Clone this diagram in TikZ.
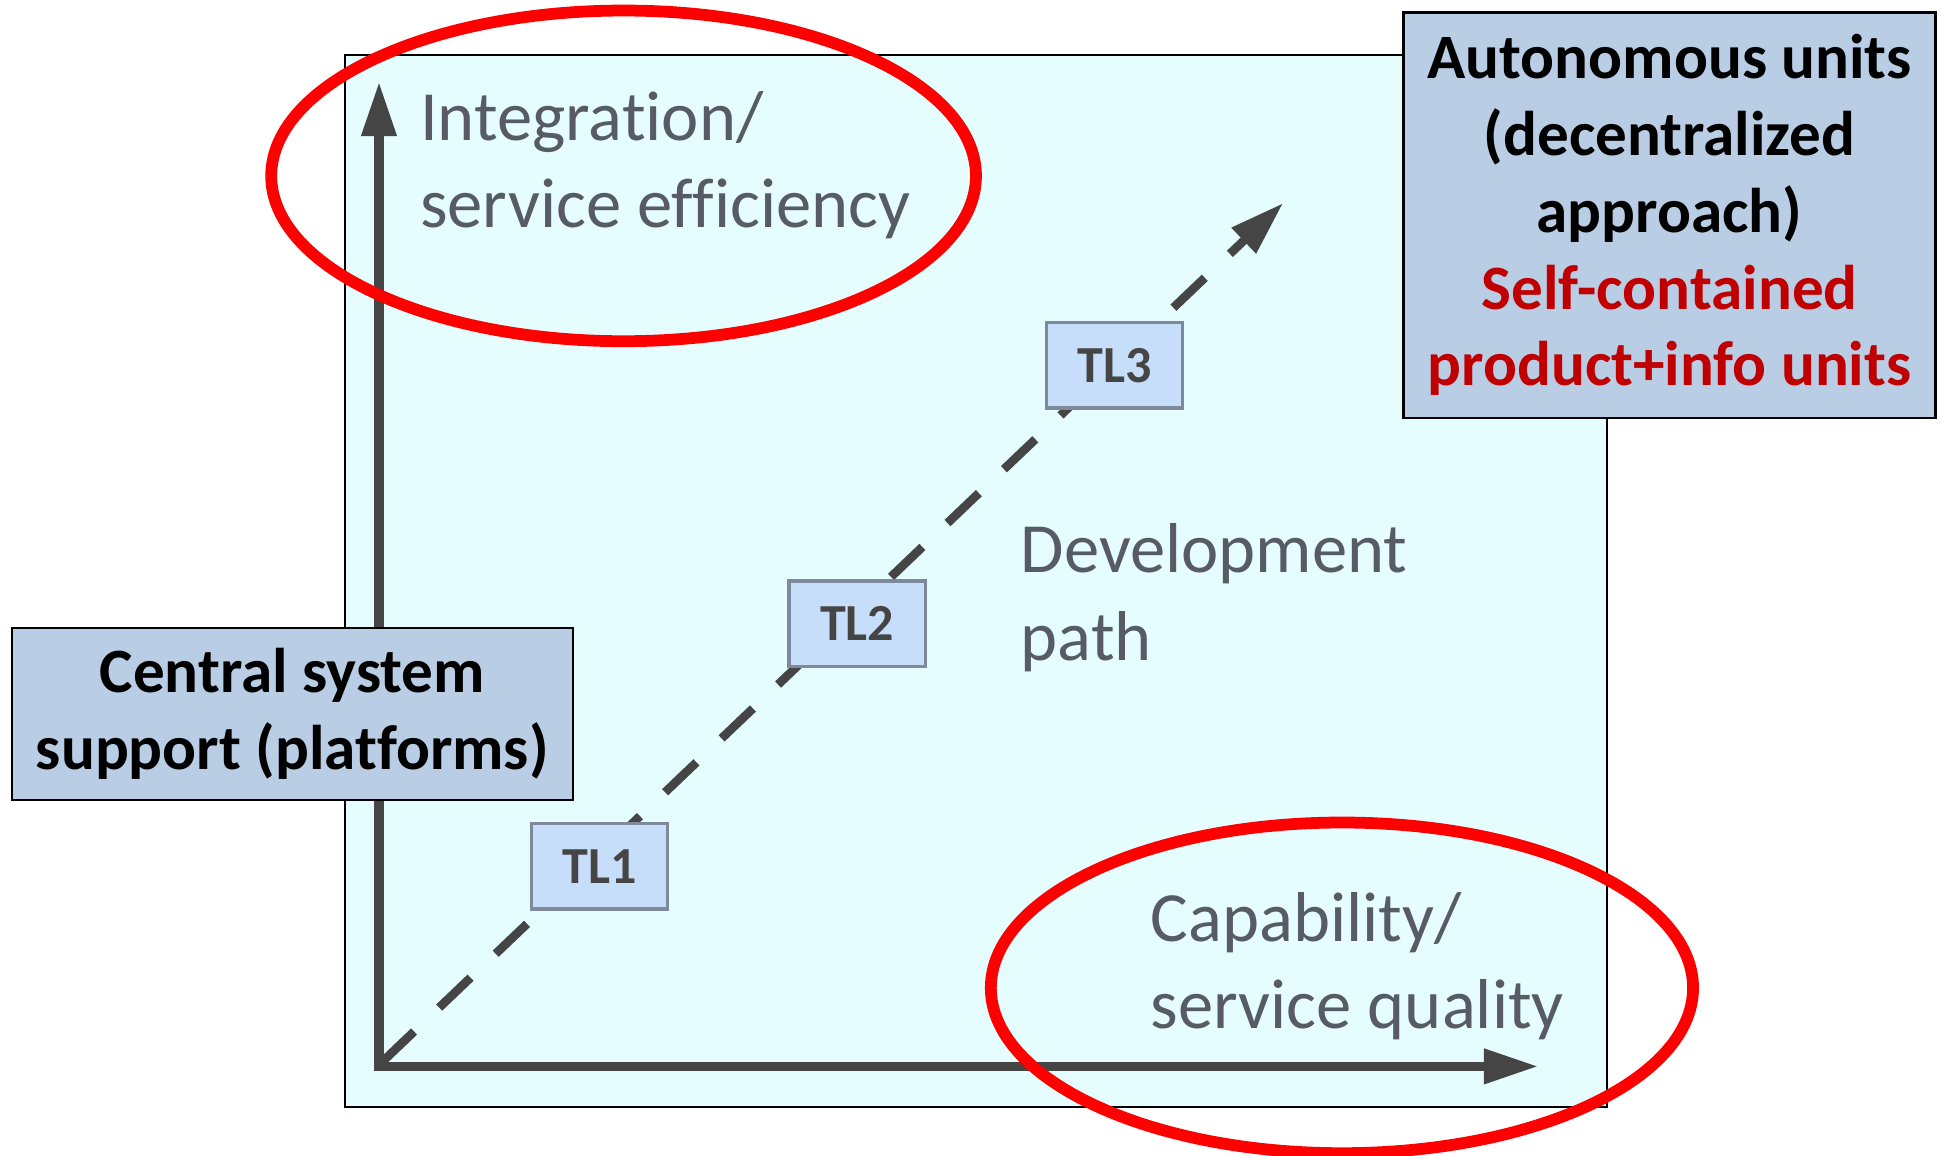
\documentclass[tikz,border=0pt]{standalone}
\usepackage{fontspec}
\setmainfont{Carlito}[Ligatures=NoCommon]
\usetikzlibrary{arrows.meta,calc}

\definecolor{framefill}{HTML}{E5FDFE}
\definecolor{axisgray}{HTML}{454545}
\definecolor{labelgray}{HTML}{575B66}
\definecolor{tlfill}{HTML}{C6DEFA}
\definecolor{tlborder}{HTML}{7E8A9C}
\definecolor{notefill}{HTML}{B9CDE5}
\definecolor{notered}{HTML}{C00000}
\definecolor{ringred}{HTML}{FF0000}

\begin{document}
\begin{tikzpicture}[x=1pt,y=-1pt,
	axis/.style={line width=7.5pt,draw=axisgray},
	devpath/.style={line width=7pt,draw=axisgray,dash pattern=on 35pt off 28pt,-{Triangle[length=44pt,width=27pt]}},
	tlbox/.style={draw=tlborder,fill=tlfill,line width=2.7pt,minimum width=110pt,minimum height=69pt,inner sep=0pt,text=axisgray,font=\fontsize{42}{50}\selectfont\bfseries},
	axislabel/.style={anchor=base west,align=left,inner sep=0pt,text=labelgray,font=\fontsize{57}{70.5}\selectfont},
	notebox/.style={draw=black,fill=notefill,line width=2pt,align=center,inner sep=0pt,font=\fontsize{51}{62}\selectfont\bfseries},
	ring/.style={draw=ringred,line width=9.5pt}]
			%%%%% START %%%%%
			\def\ox{306}
			\def\oy{861}
			\def\rx{284.5}
			\def\ry{133.5}
			
			\useasboundingbox (0,0) rectangle (1568,932.6);
			
			% frame
			\draw[fill=framefill,line width=1.6pt] (278.3,44.4) rectangle (1297.3,893.6);
			
			% axes
			\coordinate (O) at (\ox,\oy);
			\coordinate (ytip) at (\ox,66);
			\coordinate (xtip) at (1242,\oy);
			\coordinate (ptip) at (1036,164);
			\draw[axis,{Triangle[length=44pt,width=27pt]}-{Triangle[length=44pt,width=27pt]}] (ytip) -- (O) -- (xtip);
			\draw[devpath] ($(O)+(3,-4)$) -- (ptip);
			
			% levels
			\node[tlbox] (tl1) at (484,699.5) {TL1};
			\node[tlbox] (tl2) at (692,503.5) {TL2};
			\node[tlbox] (tl3) at (900,295) {TL3};
			
			% labels (base = last line)
			\node[axislabel] (ylab) at (339,184) {Integration/\\service efficiency};
			\node[axislabel] (plab) at (824,533) {Development\\path};
			\node[axislabel] (xlab) at (929,830.3) {Capability/\\service quality};
			
			% side boxes
			\node[notebox,minimum width=453pt,minimum height=139pt] (central) at (236,576.4) {\raisebox{-4pt}{Central system}\\\raisebox{-4pt}{support (platforms)}};
			\node[notebox,minimum width=429.7pt,minimum height=327.4pt] (auto) at (1348,173.6) {Autonomous units\\(decentralized\\approach)\\\textcolor{notered}{Self-contained}\\\textcolor{notered}{product+info units}};
			
			% rings
			\draw[ring] (503.5,142) ellipse [x radius=\rx, y radius=\ry];
			\draw[ring] (1083.5,797.6) ellipse [x radius=\rx-1, y radius=\ry];
			%%%%% END %%%%%
\end{tikzpicture}
\end{document}
